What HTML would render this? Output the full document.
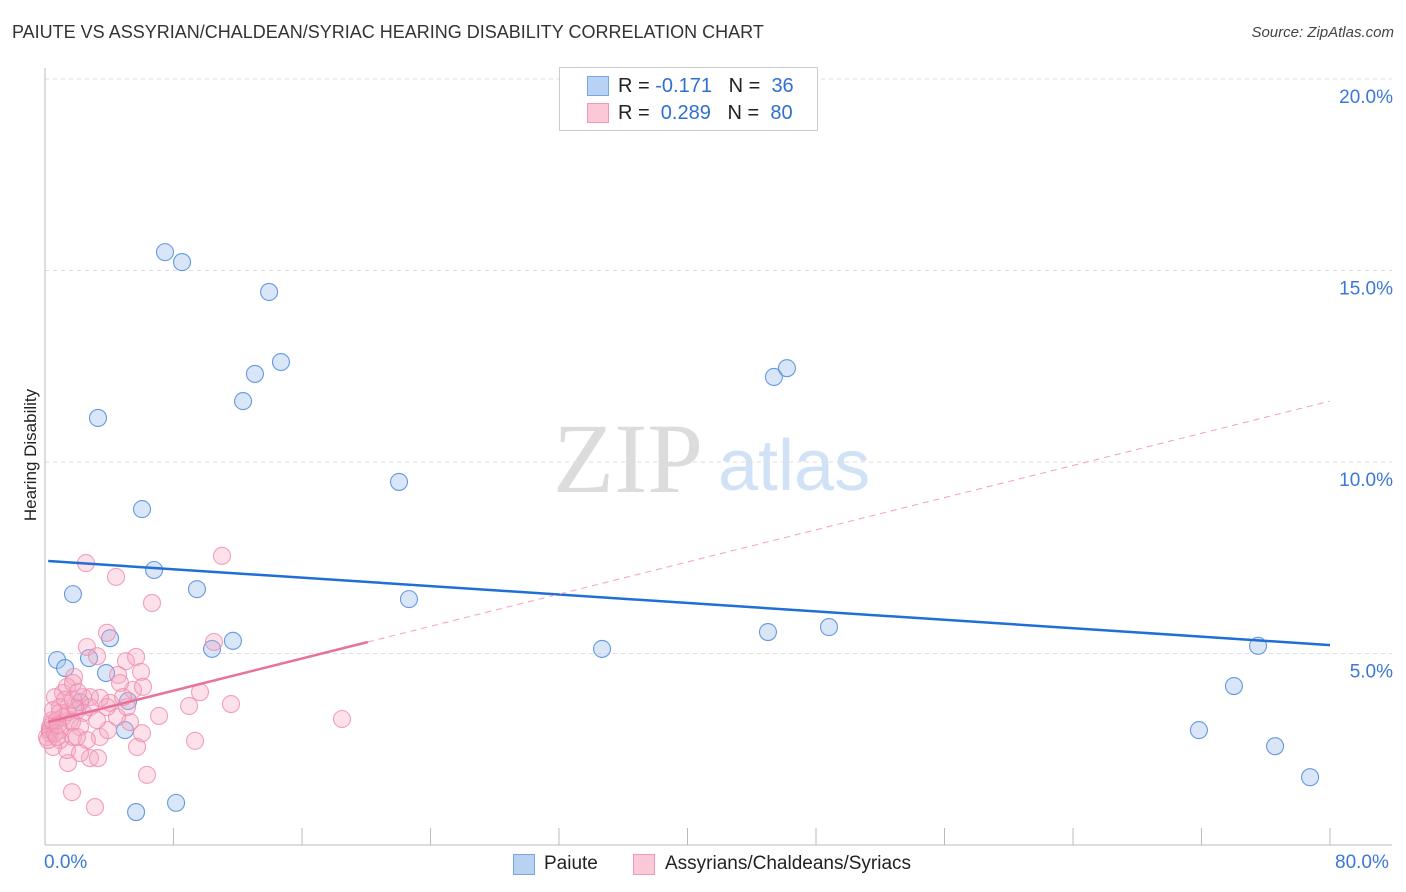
<!DOCTYPE html>
<html><head><meta charset="utf-8"><style>
body{margin:0;background:#fff;font-family:"Liberation Sans",sans-serif}
#wrap{position:relative;width:1406px;height:892px;overflow:hidden}
.t{position:absolute;white-space:nowrap}
</style></head><body>
<div id="wrap">
<div class="t" style="left:12px;top:22px;font-size:18px;color:#333">PAIUTE VS ASSYRIAN/CHALDEAN/SYRIAC HEARING DISABILITY CORRELATION CHART</div>
<div class="t" style="right:12px;top:24px;font-size:15px;color:#444;font-style:italic">Source: ZipAtlas.com</div>
<div class="t" style="left:-35px;top:445px;font-size:17px;color:#222;transform:rotate(-90deg)">Hearing Disability</div>
<div style="position:absolute;left:559px;top:67px;width:257px;height:62px;border:1px solid #ccc;background:#fff;z-index:2;font-size:20px">
 <div style="position:absolute;left:27px;top:8px;width:20px;height:18px;background:#b8d2f4;border:1px solid #7aa6e0"></div>
 <div class="t" style="left:58px;top:7px;color:#222">R = <span style="color:#2f6fd0">-0.171</span>&nbsp;&nbsp;&nbsp;N = &nbsp;<span style="color:#2f6fd0">36</span></div>
 <div style="position:absolute;left:27px;top:35px;width:20px;height:18px;background:#fbc8d8;border:1px solid #f09ab6"></div>
 <div class="t" style="left:58px;top:34px;color:#222">R = &nbsp;<span style="color:#2f6fd0">0.289</span>&nbsp;&nbsp;&nbsp;N = &nbsp;<span style="color:#2f6fd0">80</span></div>
</div>
<div class="t" style="left:44px;top:852px;font-size:19px;color:#3a78d8">0.0%</div>
<div class="t" style="left:1335px;top:852px;font-size:19px;color:#3a78d8">80.0%</div>
<div style="position:absolute;left:513px;top:854px;width:20px;height:19px;background:#b8d2f4;border:1px solid #7aa6e0"></div>
<div class="t" style="left:544px;top:853px;font-size:19px;color:#222">Paiute</div>
<div style="position:absolute;left:633px;top:854px;width:20px;height:19px;background:#fbc8d8;border:1px solid #f09ab6"></div>
<div class="t" style="left:665px;top:853px;font-size:19px;color:#222">Assyrians/Chaldeans/Syriacs</div>
<svg id="svg" width="1406" height="892" style="position:absolute;left:0;top:0">
<text x="553" y="492" font-family="Liberation Serif" font-size="100" fill="#dcdcdc">ZIP</text>
<text x="718" y="490" font-family="Liberation Sans" font-size="72" fill="#d2e2f6">atlas</text>
</svg>
</div>
<script>
const yTicks=[5,10,15,20];
const yTickLabels=["5.0%","10.0%","15.0%","20.0%"];
const xTicks=[0,8,16,24,32,40,48,56,64,72,80];
const paiuteX=[7.47,8.53,13.95,14.69,13.07,12.33,3.30,22.04,6.04,6.79,1.74,9.46,22.66,4.05,11.70,10.40,0.75,2.74,1.25,3.80,5.17,2.18,4.98,5.67,8.16,34.68,45.01,48.81,45.38,46.19,75.52,74.02,71.84,76.58,78.76,0.31];
const paiuteY=[15.48,15.22,14.44,12.61,12.30,11.59,11.15,9.48,8.77,7.18,6.55,6.68,6.42,5.40,5.33,5.12,4.83,4.88,4.62,4.49,3.76,3.73,3.00,0.86,1.10,5.12,5.56,5.69,12.22,12.45,5.20,4.15,3.00,2.58,1.77,3.00];
const assyX=[2.55,4.42,11.02,6.66,3.86,2.61,3.24,5.04,5.67,5.98,1.81,4.55,10.52,9.65,8.97,11.58,7.10,18.49,9.34,6.35,1.68,3.11,2.80,3.30,1.43,1.37,3.42,3.92,5.73,6.04,5.29,4.48,4.05,5.48,4.67,3.42,2.80,2.37,1.12,0.62,1.37,1.74,0.93,1.99,2.37,1.56,2.18,1.74,0.93,0.50,0.31,0.31,0.31,0.50,0.75,1.12,0.12,0.19,0.93,0.62,0.44,0.75,2.80,3.24,3.86,5.11,6.10,4.86,2.61,2.18,1.43,1.87,0.93,1.25,0.50,1.74,2.05,1.68,1.99,0.81];
const assyY=[7.36,7.00,7.55,6.32,5.54,5.17,4.93,4.80,4.91,4.52,4.39,4.44,5.30,3.99,3.63,3.68,3.37,3.29,2.72,1.83,1.38,0.99,2.27,2.27,2.14,2.48,2.82,3.00,2.56,2.92,3.21,3.34,3.71,4.05,4.23,3.84,3.86,3.86,3.97,3.86,4.13,4.23,3.60,3.52,3.45,3.26,3.08,2.82,2.74,2.56,3.08,2.92,3.00,3.19,3.26,3.34,2.82,2.74,3.00,2.92,3.26,2.82,3.60,3.26,3.60,3.60,4.13,3.86,2.74,2.40,3.47,3.60,3.45,3.79,3.52,3.79,3.99,3.21,2.82,3.13];
const paiuteFit=[7.42,-0.0275];
const assyFit=[3.19,0.105];
const X0=45,X1=1330,Y0=845,YS=38.3;
const xs=v=>X0+v*(X1-X0)/80, ys=v=>Y0-v*YS;
const svg=document.getElementById('svg'),NS='http://www.w3.org/2000/svg';
function mk(t,a,n){const e=document.createElementNS(NS,t);for(const k in a)e.setAttribute(k,a[k]);


svg.appendChild(e);return e;}
yTicks.forEach((v,i)=>{mk('line',{x1:45,x2:1392,y1:ys(v),y2:ys(v),stroke:'#ddd','stroke-dasharray':'4,4'},'gridline');
const t=mk('text',{x:1393,y:ys(v)+24,'text-anchor':'end','font-size':19,fill:'#3a78d8','font-family':'Liberation Sans'},'y-tick-label');t.textContent=yTickLabels[i];});
mk('line',{x1:45,x2:45,y1:68,y2:845,stroke:'#bbb'},'y-axis');
mk('line',{x1:45,x2:1392,y1:845,y2:845,stroke:'#bbb'},'x-axis');
xTicks.forEach(v=>mk('line',{x1:xs(v),x2:xs(v),y1:828,y2:845,stroke:'#bbb'},'x-tick'));
paiuteX.forEach((x,i)=>mk('circle',{cx:xs(x),cy:ys(paiuteY[i]),r:8.5,fill:'rgba(168,200,240,0.45)',stroke:'rgba(70,130,215,0.8)','stroke-width':1.1},'paiute-point'));
assyX.forEach((x,i)=>mk('circle',{cx:xs(x),cy:ys(assyY[i]),r:8.5,fill:'rgba(246,170,196,0.35)',stroke:'rgba(236,140,172,0.8)','stroke-width':1.1},'assyrian-point'));
mk('line',{x1:xs(0.2),y1:ys(paiuteFit[0]+0.2*paiuteFit[1]),x2:xs(80),y2:ys(paiuteFit[0]+80*paiuteFit[1]),stroke:'#1f6fd6','stroke-width':2.5},'paiute-trend-line');
mk('line',{x1:xs(0.2),y1:ys(assyFit[0]+0.2*assyFit[1]),x2:xs(20.1),y2:ys(assyFit[0]+20.1*assyFit[1]),stroke:'#e8709a','stroke-width':2.5},'assyrian-trend-line');
mk('line',{x1:xs(20.1),y1:ys(assyFit[0]+20.1*assyFit[1]),x2:xs(80),y2:ys(assyFit[0]+80*assyFit[1]),stroke:'#f0a0bc','stroke-width':1,'stroke-dasharray':'6,5'},'assyrian-trend-extension');
</script>
</body></html>
